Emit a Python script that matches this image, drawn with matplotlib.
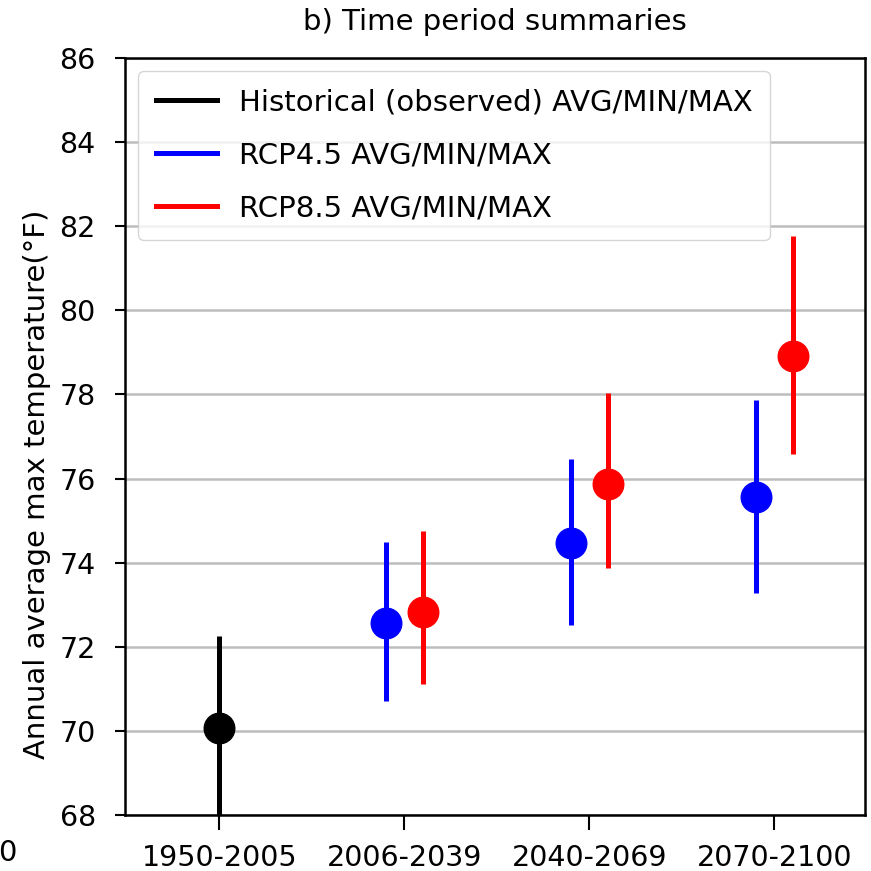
import matplotlib
matplotlib.use("Agg")
import matplotlib.pyplot as plt
import numpy as np

periods = ["1950-2005", "2006-2039", "2040-2069", "2070-2100"]

# historical (observed) avg / min / max
hist_avg = [70.07]
hist_min = [67.5]
hist_max = [72.26]

# RCP4.5 for the three future periods
rcp45_avg = [72.57, 74.47, 75.55]
rcp45_min = [70.70, 72.52, 73.28]
rcp45_max = [74.50, 76.47, 77.87]

# RCP8.5 for the three future periods
rcp85_avg = [72.83, 75.86, 78.92]
rcp85_min = [71.12, 73.87, 76.58]
rcp85_max = [74.75, 78.03, 81.77]

plt.rcParams['font.family'] = ['DejaVu Sans']

fig = plt.figure(figsize=(8.71, 8.71), dpi=100)
ax = fig.add_axes([0.1435, 0.0643, 0.8495, 0.8691])

x = np.arange(len(periods))
off = 0.1
lw = 3.6
ms = 22

def draw(xs, avg, lo, hi, color, label):
    avg = np.array(avg)
    yerr = [avg - np.array(lo), np.array(hi) - avg]
    ax.errorbar(xs, avg, yerr=yerr, fmt='o', color=color, ms=ms,
                elinewidth=lw, capsize=0, zorder=3)
    ax.plot([], [], color=color, lw=lw, label=label)

draw(x[:1], hist_avg, hist_min, hist_max, 'black', 'Historical (observed) AVG/MIN/MAX')
draw(x[1:] - off, rcp45_avg, rcp45_min, rcp45_max, 'blue', 'RCP4.5 AVG/MIN/MAX')
draw(x[1:] + off, rcp85_avg, rcp85_min, rcp85_max, 'red', 'RCP8.5 AVG/MIN/MAX')

ax.set_xlim(-0.51, 3.49)
ax.set_ylim(68, 86)
ax.set_yticks(np.arange(68, 87, 2))
ax.set_xticks(x)
ax.set_xticklabels(periods)
ax.tick_params(axis='x', labelsize=20.5, length=11, width=1.5, pad=10)
ax.tick_params(axis='y', labelsize=20.5, length=7, width=1.5, pad=14)
ax.yaxis.grid(True, color='#bdbdbd', lw=1.8)
ax.set_axisbelow(True)
for s in ax.spines.values():
    s.set_linewidth(1.8)

ax.set_title("b) Time period summaries", fontsize=21, pad=20)
ax.set_ylabel("Annual average max temperature(°F)", fontsize=21)
ax.yaxis.set_label_coords(-0.10, 0.437)

leg = ax.legend(loc='upper left', fontsize=21, handlelength=2.1,
                handletextpad=0.75, borderpad=0.6, labelspacing=0.85,
                framealpha=0.8, borderaxespad=0.45)

fig.text(-0.002, 0.012, "0", fontsize=21)

fig.savefig("out.png", dpi=100)
